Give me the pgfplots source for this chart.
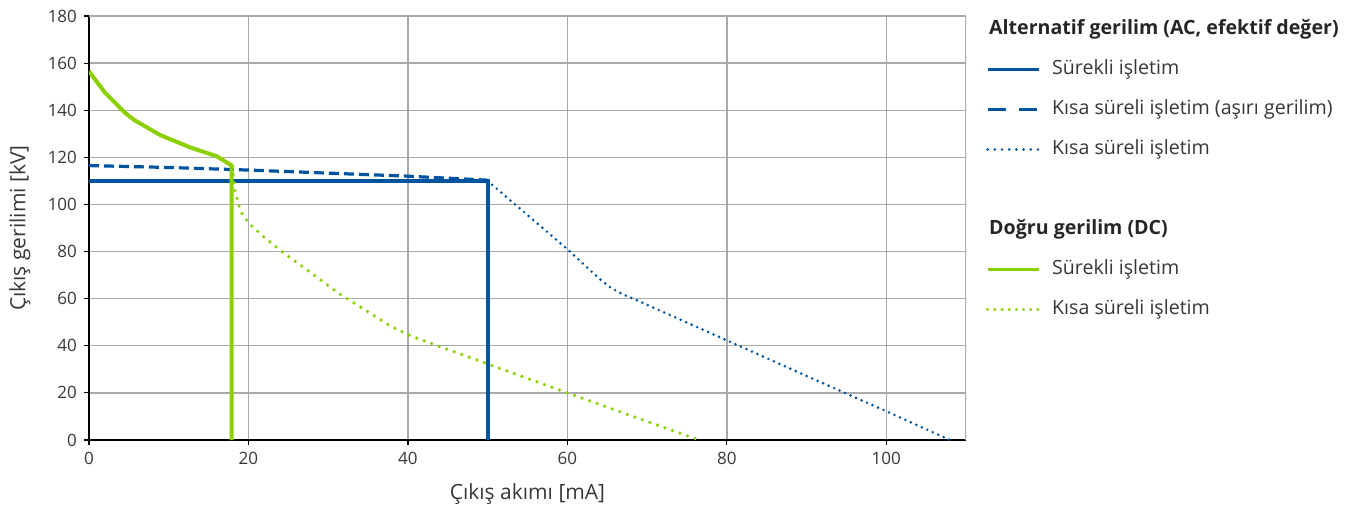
\documentclass[border=0pt]{standalone}
\usepackage{pgfplots}
\pgfplotsset{compat=1.18}
\usepackage{fontspec}
\setmainfont{Open Sans}
\definecolor{acblue}{RGB}{0,84,159}
\definecolor{dcgreen}{RGB}{140,208,0}
\definecolor{txt}{RGB}{55,55,55}
\definecolor{gridc}{RGB}{170,170,170}
\begin{document}
\begin{tikzpicture}
\path[use as bounding box] (-44.5pt,-35pt) rectangle (639pt,220pt);
\begin{axis}[
  at={(0,0)}, anchor=south west,
  scale only axis, width=438.5pt, height=212pt,
  xmin=0, xmax=110, ymin=0, ymax=180,
  xtick={0,20,...,100}, ytick={0,20,...,180},
  axis x line*=bottom, axis y line*=left,
  axis line style={black, line width=0.7pt, -},
  tick align=outside, major tick length=2.5pt,
  tick style={black, line width=0.6pt},
  grid=major, grid style={gridc, line width=0.7pt},
  ticklabel style={font=\fontsize{8.5}{10}\selectfont, text=txt},
  /pgf/number format/assume math mode=true,
  xlabel={Çıkış akımı [mA]}, ylabel={Çıkış gerilimi [kV]},
  label style={font=\fontsize{10.5}{12}\selectfont, text=txt},
  xlabel style={at={(axis description cs:0.5,-0.127)}, anchor=center},
  ylabel style={at={(axis description cs:-0.0787,0.5)}, anchor=center},
  legend style={draw=none, fill=none, inner sep=0pt, outer sep=0pt,
    anchor=north west, at={(axis description cs:1.0228,0.993)},
    font=\fontsize{9.8}{12}\selectfont, text=txt,
    nodes={inner sep=0pt, text height=8pt, text depth=2.5pt},
    row sep=9.5pt, column sep=6pt},
  legend cell align=left,
  legend image code/.code={\draw[#1] (0pt,0pt) -- (25.5pt,0pt);},
]
\draw[gridc, line width=0.7pt] (rel axis cs:0,1) -- (rel axis cs:1,1) -- (rel axis cs:1,0);

% AC continuous
\addplot[forget plot, acblue, line width=2pt] coordinates {(0,110) (50,110) (50,0)};
% AC short-time (overvoltage)
\addplot[forget plot, acblue, line width=1.6pt, dash pattern=on 5pt off 2.5pt] coordinates {
 (0,116.5) (10,115.7) (20,114.6) (30,113.3) (40,112) (50,110.3)};
% AC short-time
\addplot[forget plot, acblue, line width=1.45pt, line cap=round, dash pattern=on 0pt off 3pt] coordinates {
 (50,110) (60,81) (64,68.5) (65.5,64.5) (67,61.8) (68.4,59.8) (80,42.3) (90,27.2) (100,12.2) (108,0)};
% DC continuous
\addplot[forget plot, dcgreen, line width=2pt] coordinates {
 (0,156.5) (1,152) (2,147.5) (4.5,139) (5.6,136) (8.9,129.5) (12.7,124.2) (16,120.5) (17.9,116.5) (17.9,0)};
% DC short-time
\addplot[forget plot, dcgreen, line width=1.8pt, line cap=round, dash pattern=on 0pt off 4pt] coordinates {
 (18,116) (18.1,112) (18.3,106) (18.75,100) (19.2,96) (20.2,91.5) (22,86) (24,80.5) (27.3,72.3) (31.4,62.1) (35.7,52.9) (38,48) (40.5,44) (60,20) (76.5,0)};

\addlegendimage{empty legend}
\addlegendentry{\hspace*{-31.5pt}\textcolor{black!85}{\bfseries Alternatif gerilim (AC, efektif değer)}}
\addlegendimage{acblue, line width=1.6pt}
\addlegendentry{Sürekli işletim}
\addlegendimage{acblue, line width=1.6pt, dash pattern=on 9pt off 6.5pt}
\addlegendentry{Kısa süreli işletim (aşırı gerilim)}
\addlegendimage{acblue, line width=1.45pt, line cap=round, dash pattern=on 0pt off 3.6pt}
\addlegendentry{Kısa süreli işletim}
\addlegendimage{empty legend}
\addlegendentry{}
\addlegendimage{empty legend}
\addlegendentry{\hspace*{-31.5pt}\textcolor{black!85}{\bfseries Doğru gerilim (DC)}}
\addlegendimage{dcgreen, line width=1.6pt}
\addlegendentry{Sürekli işletim}
\addlegendimage{dcgreen, line width=1.6pt, line cap=round, dash pattern=on 0pt off 3.6pt}
\addlegendentry{Kısa süreli işletim}
\end{axis}
\end{tikzpicture}
\end{document}
